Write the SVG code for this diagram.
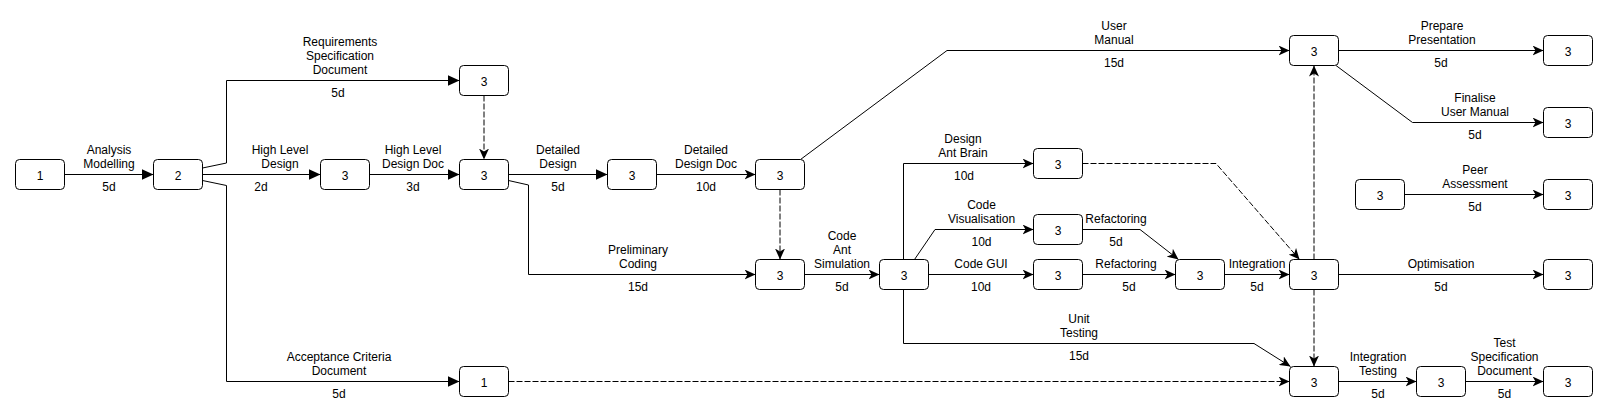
<svg xmlns="http://www.w3.org/2000/svg" width="1608" height="418" viewBox="0 0 1608 418">
<style>
.n rect{fill:#fff;stroke:#000;stroke-width:1}
text{font-family:"Liberation Sans",Arial,sans-serif;font-size:12px;fill:#000;text-anchor:middle}
.e{fill:none;stroke:#000;stroke-width:1}
.b{marker-end:url(#block)}
.c{marker-end:url(#classic)}
.d{stroke-dasharray:6 2}
</style>
<defs>
<marker id="block" viewBox="0 0 12 11" refX="12" refY="5.5" markerWidth="12" markerHeight="11" markerUnits="userSpaceOnUse" orient="auto">
<path d="M0,0 L12,5.5 L0,11 Z" fill="#000" stroke="none"/>
</marker>
<marker id="classic" viewBox="0 0 11 10" refX="11" refY="5" markerWidth="11" markerHeight="10" markerUnits="userSpaceOnUse" orient="auto">
<path d="M0,0 L11,5 L0,10 L3,5 Z" fill="#000" stroke="none"/>
</marker>
</defs>
<rect width="1608" height="418" fill="#fff"/>
<g id="connectors">
<g id="e1"><path class="e b" d="M64.5,174.5 H153.5"/><text x="109" y="154">Analysis</text><text x="109" y="168">Modelling</text><text x="109" y="191">5d</text></g>
<g id="e2"><path class="e b" d="M202.5,168 L226.5,163 V80.5 H459.5"/><text x="340" y="46">Requirements</text><text x="340" y="60">Specification</text><text x="340" y="74">Document</text><text x="338" y="97">5d</text></g>
<g id="e3"><path class="e b" d="M202.5,174.5 H320.5"/><text x="280" y="154">High Level</text><text x="280" y="168">Design</text><text x="261" y="191">2d</text></g>
<g id="e4"><path class="e b" d="M202.5,180.5 L226.5,185.5 V381.5 H459.5"/><text x="339" y="361">Acceptance Criteria</text><text x="339" y="375">Document</text><text x="339" y="398">5d</text></g>
<g id="e5"><path class="e b" d="M369.5,174.5 H459.5"/><text x="413" y="154">High Level</text><text x="413" y="168">Design Doc</text><text x="413" y="191">3d</text></g>
<g id="e6"><path class="e d c" d="M484,95.5 V159.5"/></g>
<g id="e7"><path class="e b" d="M508.5,174.5 H607.5"/><text x="558" y="154">Detailed</text><text x="558" y="168">Design</text><text x="558" y="191">5d</text></g>
<g id="e8"><path class="e c" d="M508.5,180.5 L528.5,185 V274.5 H755.5"/><text x="638" y="254">Preliminary</text><text x="638" y="268">Coding</text><text x="638" y="291">15d</text></g>
<g id="e9"><path class="e c" d="M656.5,174.5 H755.5"/><text x="706" y="154">Detailed</text><text x="706" y="168">Design Doc</text><text x="706" y="191">10d</text></g>
<g id="e10"><path class="e c" d="M800.5,159.5 L947,50.5 H1289.5"/><text x="1114" y="30">User</text><text x="1114" y="44">Manual</text><text x="1114" y="67">15d</text></g>
<g id="e11"><path class="e d c" d="M780,189.5 V259.5"/></g>
<g id="e12"><path class="e c" d="M804.5,274.5 H879.5"/><text x="842" y="240">Code</text><text x="842" y="254">Ant</text><text x="842" y="268">Simulation</text><text x="842" y="291">5d</text></g>
<g id="e13"><path class="e c" d="M903.5,259.5 V163.5 H1033.5"/><text x="963" y="143">Design</text><text x="963" y="157">Ant Brain</text><text x="964" y="180">10d</text></g>
<g id="e14"><path class="e c" d="M914.5,259.5 L935,229.5 H1033.5"/><text x="981.5" y="209">Code</text><text x="981.5" y="223">Visualisation</text><text x="981.5" y="246">10d</text></g>
<g id="e15"><path class="e c" d="M928.5,274.5 H1033.5"/><text x="981" y="268">Code GUI</text><text x="981" y="291">10d</text></g>
<g id="e16"><path class="e c" d="M903.5,289.5 V343.5 H1254 L1290.5,366.5"/><text x="1079" y="323">Unit</text><text x="1079" y="337">Testing</text><text x="1079" y="360">15d</text></g>
<g id="e17"><path class="e c" d="M1082.5,229.5 H1140 L1178.5,259.5"/><text x="1116" y="223">Refactoring</text><text x="1116" y="246">5d</text></g>
<g id="e18"><path class="e c" d="M1082.5,274.5 H1175.5"/><text x="1126" y="268">Refactoring</text><text x="1129" y="291">5d</text></g>
<g id="e19"><path class="e c" d="M1224.5,274.5 H1289.5"/><text x="1257" y="268">Integration</text><text x="1257" y="291">5d</text></g>
<g id="e20"><path class="e d c" d="M1082.5,163.5 H1216 L1299.5,259.5"/></g>
<g id="e21"><path class="e d c" d="M1314,259.5 V65.5"/></g>
<g id="e22"><path class="e d c" d="M1314,289.5 V366.5"/></g>
<g id="e23"><path class="e d c" d="M508.5,381.5 H1289.5"/></g>
<g id="e24"><path class="e c" d="M1338.5,50.5 H1543.5"/><text x="1442" y="30">Prepare</text><text x="1442" y="44">Presentation</text><text x="1441" y="67">5d</text></g>
<g id="e25"><path class="e c" d="M1336,65.5 L1412.5,122.5 H1543.5"/><text x="1475" y="102">Finalise</text><text x="1475" y="116">User Manual</text><text x="1475" y="139">5d</text></g>
<g id="e26"><path class="e c" d="M1404.5,194.5 H1543.5"/><text x="1475" y="174">Peer</text><text x="1475" y="188">Assessment</text><text x="1475" y="211">5d</text></g>
<g id="e27"><path class="e c" d="M1338.5,274.5 H1543.5"/><text x="1441" y="268">Optimisation</text><text x="1441" y="291">5d</text></g>
<g id="e28"><path class="e c" d="M1338.5,381.5 H1416.5"/><text x="1378" y="361">Integration</text><text x="1378" y="375">Testing</text><text x="1378" y="398">5d</text></g>
<g id="e29"><path class="e c" d="M1465.5,381.5 H1543.5"/><text x="1504.5" y="347">Test</text><text x="1504.5" y="361">Specification</text><text x="1504.5" y="375">Document</text><text x="1504.5" y="398">5d</text></g>
</g>
<g id="n1" class="n"><rect x="15.5" y="159.5" width="49" height="30" rx="4"/><text x="40" y="179.5">1</text></g>
<g id="n2" class="n"><rect x="153.5" y="159.5" width="49" height="30" rx="4"/><text x="178" y="179.5">2</text></g>
<g id="n3" class="n"><rect x="320.5" y="159.5" width="49" height="30" rx="4"/><text x="345" y="179.5">3</text></g>
<g id="n4" class="n"><rect x="459.5" y="65.5" width="49" height="30" rx="4"/><text x="484" y="85.5">3</text></g>
<g id="n5" class="n"><rect x="459.5" y="159.5" width="49" height="30" rx="4"/><text x="484" y="179.5">3</text></g>
<g id="n6" class="n"><rect x="459.5" y="366.5" width="49" height="30" rx="4"/><text x="484" y="386.5">1</text></g>
<g id="n7" class="n"><rect x="607.5" y="159.5" width="49" height="30" rx="4"/><text x="632" y="179.5">3</text></g>
<g id="n8" class="n"><rect x="755.5" y="159.5" width="49" height="30" rx="4"/><text x="780" y="179.5">3</text></g>
<g id="n9" class="n"><rect x="755.5" y="259.5" width="49" height="30" rx="4"/><text x="780" y="279.5">3</text></g>
<g id="n10" class="n"><rect x="879.5" y="259.5" width="49" height="30" rx="4"/><text x="904" y="279.5">3</text></g>
<g id="n11" class="n"><rect x="1033.5" y="148.5" width="49" height="30" rx="4"/><text x="1058" y="168.5">3</text></g>
<g id="n12" class="n"><rect x="1033.5" y="214.5" width="49" height="30" rx="4"/><text x="1058" y="234.5">3</text></g>
<g id="n13" class="n"><rect x="1033.5" y="259.5" width="49" height="30" rx="4"/><text x="1058" y="279.5">3</text></g>
<g id="n14" class="n"><rect x="1175.5" y="259.5" width="49" height="30" rx="4"/><text x="1200" y="279.5">3</text></g>
<g id="n15" class="n"><rect x="1289.5" y="35.5" width="49" height="30" rx="4"/><text x="1314" y="55.5">3</text></g>
<g id="n16" class="n"><rect x="1289.5" y="259.5" width="49" height="30" rx="4"/><text x="1314" y="279.5">3</text></g>
<g id="n17" class="n"><rect x="1289.5" y="366.5" width="49" height="30" rx="4"/><text x="1314" y="386.5">3</text></g>
<g id="n18" class="n"><rect x="1543.5" y="35.5" width="49" height="30" rx="4"/><text x="1568" y="55.5">3</text></g>
<g id="n19" class="n"><rect x="1543.5" y="107.5" width="49" height="30" rx="4"/><text x="1568" y="127.5">3</text></g>
<g id="n20" class="n"><rect x="1355.5" y="179.5" width="49" height="30" rx="4"/><text x="1380" y="199.5">3</text></g>
<g id="n21" class="n"><rect x="1543.5" y="179.5" width="49" height="30" rx="4"/><text x="1568" y="199.5">3</text></g>
<g id="n22" class="n"><rect x="1543.5" y="259.5" width="49" height="30" rx="4"/><text x="1568" y="279.5">3</text></g>
<g id="n23" class="n"><rect x="1416.5" y="366.5" width="49" height="30" rx="4"/><text x="1441" y="386.5">3</text></g>
<g id="n24" class="n"><rect x="1543.5" y="366.5" width="49" height="30" rx="4"/><text x="1568" y="386.5">3</text></g>
</svg>
